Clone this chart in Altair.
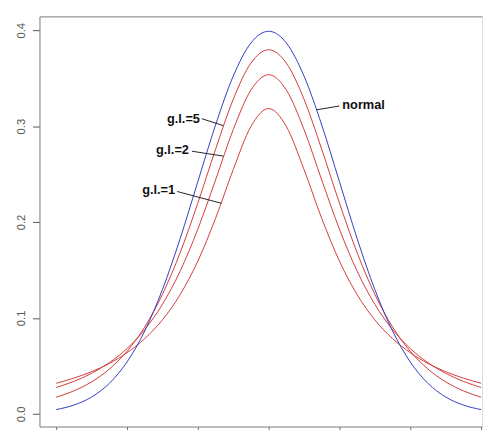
import altair as alt
import pandas as pd

# x positions at which the curves were read
xs = [-3.0, -2.75, -2.5, -2.25, -2.0, -1.75, -1.5, -1.25, -1.0, -0.75, -0.5, -0.25, 0.0,
      0.25, 0.5, 0.75, 1.0, 1.25, 1.5, 1.75, 2.0, 2.25, 2.5, 2.75, 3.0]

normal = [0.0044, 0.0091, 0.0175, 0.0317, 0.0540, 0.0863, 0.1295, 0.1826, 0.2420, 0.3011, 0.3521, 0.3867, 0.3989,
          0.3867, 0.3521, 0.3011, 0.2420, 0.1826, 0.1295, 0.0863, 0.0540, 0.0317, 0.0175, 0.0091, 0.0044]
gl5 = [0.0173, 0.0239, 0.0333, 0.0466, 0.0651, 0.0905, 0.1245, 0.1679, 0.2197, 0.2757, 0.3279, 0.3657, 0.3796,
       0.3657, 0.3279, 0.2757, 0.2197, 0.1679, 0.1245, 0.0905, 0.0651, 0.0466, 0.0333, 0.0239, 0.0173]
gl2 = [0.0274, 0.0338, 0.0422, 0.0533, 0.0680, 0.0878, 0.1141, 0.1487, 0.1925, 0.2438, 0.2963, 0.3376, 0.3536,
       0.3376, 0.2963, 0.2438, 0.1925, 0.1487, 0.1141, 0.0878, 0.0680, 0.0533, 0.0422, 0.0338, 0.0274]
gl1 = [0.0318, 0.0372, 0.0439, 0.0525, 0.0637, 0.0784, 0.0979, 0.1242, 0.1592, 0.2037, 0.2546, 0.2996, 0.3183,
       0.2996, 0.2546, 0.2037, 0.1592, 0.1242, 0.0979, 0.0784, 0.0637, 0.0525, 0.0439, 0.0372, 0.0318]

series_names = ["g.l.=1", "g.l.=2", "g.l.=5", "normal"]
series_vals = [gl1, gl2, gl5, normal]

x_ticks = [-3, -2, -1, 0, 1, 2, 3]
y_ticks = [0.0, 0.1, 0.2, 0.3, 0.4]

# annotation labels
lab_right = ["g.l.=5", "g.l.=2", "g.l.=1"]
lab_right_x = [-0.97, -1.125, -1.32]
lab_right_y = [0.3077, 0.2749, 0.2328]
lab_left = ["normal"]
lab_left_x = [1.04]
lab_left_y = [0.3221]
# leader segments
seg_x = [-0.944, -1.083, -1.292, 1.0]
seg_y = [0.3077, 0.2738, 0.2318, 0.321]
seg_x2 = [-0.639, -0.639, -0.667, 0.681]
seg_y2 = [0.3005, 0.2687, 0.2195, 0.317]

rows = []
for name, vals in zip(series_names, series_vals):
    for xv, yv in zip(xs, vals):
        rows.append({"x": xv, "y": yv, "series": name})
df = pd.DataFrame(rows)

xscale = alt.Scale(domain=[-3.236, 3.014], nice=False, zero=False)
yscale = alt.Scale(domain=[-0.0133, 0.4144], nice=False, zero=False)

BLUE = "#2f3cc0"
RED = "#d23a3a"

lines = alt.Chart(df).mark_line(strokeWidth=1, interpolate="monotone").encode(
    x=alt.X("x:Q", scale=xscale,
            axis=alt.Axis(values=x_ticks, labels=False, title=None, grid=False, tickSize=3,
                          domainColor="#888888", tickColor="#666666")),
    y=alt.Y("y:Q", scale=yscale,
            axis=alt.Axis(values=y_ticks, format=".1f", title=None, grid=False, tickSize=7,
                          labelAngle=270, labelAlign="center", labelBaseline="bottom",
                          labelPadding=6, labelFont="Liberation Sans", labelFontSize=11.5,
                          labelColor="#555555", domainColor="#888888", tickColor="#555555")),
    color=alt.Color("series:N", scale=alt.Scale(domain=series_names, range=[RED, RED, RED, BLUE]),
                    legend=None),
    detail="series:N",
)

top_axis = alt.Chart(pd.DataFrame({"x": [0.0]})).mark_point(opacity=0).encode(
    x=alt.X("x:Q", scale=xscale,
            axis=alt.Axis(orient="top", labels=False, ticks=False, title=None, grid=False,
                          domainColor="#888888")),
)

txt_r = alt.Chart(pd.DataFrame({"label": lab_right, "x": lab_right_x, "y": lab_right_y})).mark_text(
    align="right", baseline="middle", font="Liberation Sans", fontSize=13, fontWeight="bold", color="#111111"
).encode(x=alt.X("x:Q", scale=xscale, axis=None), y=alt.Y("y:Q", scale=yscale, axis=None), text="label:N")

txt_l = alt.Chart(pd.DataFrame({"label": lab_left, "x": lab_left_x, "y": lab_left_y})).mark_text(
    align="left", baseline="middle", font="Liberation Sans", fontSize=13, fontWeight="bold", color="#111111"
).encode(x=alt.X("x:Q", scale=xscale, axis=None), y=alt.Y("y:Q", scale=yscale, axis=None), text="label:N")

segs = alt.Chart(pd.DataFrame({"x": seg_x, "y": seg_y, "x2": seg_x2, "y2": seg_y2})).mark_rule(
    color="#222222", strokeWidth=1
).encode(x=alt.X("x:Q", scale=xscale, axis=None), y=alt.Y("y:Q", scale=yscale, axis=None),
         x2="x2:Q", y2="y2:Q")

chart = alt.layer(lines, top_axis, segs, txt_r, txt_l).resolve_axis(
    x="independent", y="independent"
).properties(
    width=450, height=417,
    autosize=alt.AutoSizeParams(type="none"),
    padding={"left": 32, "top": 5, "right": 5, "bottom": 1},
).configure_view(stroke=None).configure(background="white")

chart.save("out.html", embed_options={"renderer": "svg", "actions": False})
